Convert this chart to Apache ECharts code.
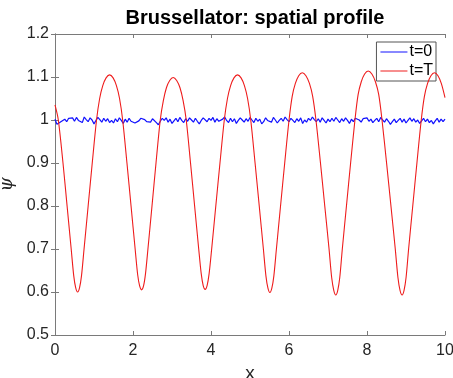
<!DOCTYPE html>
<html>
<head>
<meta charset="utf-8">
<script src="https://cdn.jsdelivr.net/npm/echarts@6/dist/echarts.min.js"></script>
<style>
  html, body { margin: 0; padding: 0; background: #fff; }
  #chart { width: 453px; height: 378px; }
</style>
</head>
<body>
<div id="chart"></div>
<script>
// 刻度
const xTicks = [0, 2, 4, 6, 8, 10];
const yTicks = [0.5, 0.6, 0.7, 0.8, 0.9, 1.0, 1.1, 1.2];

// t=T 曲线 (读图取点)
const redX = [
  0.00, 0.085, 0.205, 0.31, 0.415, 0.48, 0.53,
  0.58, 0.63, 0.68, 0.745, 0.85, 0.955, 1.065, 1.145, 1.225, 1.31,
  1.40, 1.49, 1.575, 1.655, 1.735, 1.845, 1.95, 2.055, 2.12, 2.17,
  2.22, 2.27, 2.32, 2.383, 2.487, 2.59, 2.699, 2.778, 2.857, 2.941,
  3.03, 3.12, 3.205, 3.285, 3.365, 3.475, 3.58, 3.685, 3.75, 3.80,
  3.85, 3.90, 3.951, 4.017, 4.123, 4.23, 4.341, 4.422, 4.503, 4.589,
  4.68, 4.771, 4.857, 4.938, 5.019, 5.13, 5.237, 5.343, 5.409, 5.46,
  5.51, 5.56, 5.611, 5.677, 5.783, 5.89, 6.001, 6.082, 6.163, 6.249,
  6.34, 6.434, 6.524, 6.607, 6.691, 6.807, 6.917, 7.027, 7.095, 7.148,
  7.20, 7.25, 7.301, 7.367, 7.473, 7.58, 7.691, 7.772, 7.853, 7.939,
  8.03, 8.125, 8.216, 8.301, 8.385, 8.502, 8.614, 8.725, 8.794, 8.847,
  8.90, 8.95, 9.001, 9.067, 9.173, 9.28, 9.391, 9.472, 9.553, 9.639,
  9.73, 9.82, 9.905, 10.00
];
const redY = [
  1.035, 1.00, 0.90, 0.80, 0.70, 0.638, 0.61,
  0.600, 0.61, 0.638, 0.70, 0.80, 0.90, 1.00, 1.05, 1.08, 1.098,
  1.105, 1.098, 1.08, 1.05, 1.00, 0.90, 0.80, 0.70, 0.64, 0.614,
  0.605, 0.614, 0.642, 0.70, 0.80, 0.90, 1.00, 1.045, 1.075, 1.092,
  1.099, 1.092, 1.075, 1.045, 1.00, 0.90, 0.80, 0.70, 0.642, 0.615,
  0.606, 0.615, 0.642, 0.70, 0.80, 0.90, 1.00, 1.05, 1.08, 1.098,
  1.105, 1.098, 1.08, 1.05, 1.00, 0.90, 0.80, 0.70, 0.637, 0.609,
  0.599, 0.609, 0.637, 0.70, 0.80, 0.90, 1.00, 1.055, 1.085, 1.103,
  1.11, 1.103, 1.085, 1.055, 1.00, 0.90, 0.80, 0.70, 0.633, 0.604,
  0.593, 0.604, 0.633, 0.70, 0.80, 0.90, 1.00, 1.059, 1.089, 1.107,
  1.114, 1.107, 1.089, 1.059, 1.00, 0.90, 0.80, 0.70, 0.633, 0.604,
  0.593, 0.604, 0.633, 0.70, 0.80, 0.90, 1.00, 1.055, 1.085, 1.103,
  1.11, 1.103, 1.085, 1.052
];

// t=0 曲线, x 步长 0.05
const blueStep = 0.05;
const blueY = [
  1.002, 0.990, 0.988, 0.996, 0.992, 1.002, 0.996, 1.004, 1.000, 1.005,
  0.997, 1.006, 0.999, 1.003, 0.994, 1.007, 1.001, 0.996, 1.005, 1.000,
  0.991, 0.999, 1.006, 1.001, 0.995, 1.004, 0.997, 1.003, 0.994, 0.999,
  0.993, 1.003, 0.996, 1.005, 0.999, 0.992, 1.002, 0.995, 1.004, 0.997,
  1.000, 0.993, 0.990, 0.998, 1.004, 1.007, 1.001, 0.996, 0.999, 0.995,
  1.003, 0.999, 0.994, 0.989, 0.997, 1.004, 0.999, 1.005, 0.995, 1.002,
  0.992, 0.998, 1.004, 0.996, 1.006, 0.999, 0.994, 1.003, 0.997, 1.005,
  1.000, 0.995, 1.004, 0.997, 0.991, 0.999, 1.005, 1.001, 0.996, 1.004,
  0.999, 1.006, 0.995, 1.003, 0.997, 0.993, 1.002, 1.007, 0.999, 0.994,
  1.004, 0.996, 1.003, 0.992, 0.999, 1.005, 1.000, 0.995, 1.003, 0.997,
  1.006, 1.000, 0.994, 1.004, 0.997, 1.002, 0.991, 0.996, 1.005, 0.999,
  1.003, 0.995, 1.006, 1.000, 0.993, 0.999, 1.004, 0.997, 1.007, 1.001,
  0.996, 1.004, 0.999, 0.994, 1.003, 0.997, 1.005, 0.992, 1.000, 0.995,
  1.004, 0.999, 1.007, 1.001, 0.996, 1.003, 0.995, 1.005, 0.999, 0.993,
  1.002, 0.996, 1.004, 0.997, 1.006, 1.000, 0.994, 1.003, 0.997, 1.005,
  0.999, 0.992, 1.002, 0.996, 1.004, 1.007, 1.000, 0.995, 1.003, 0.999,
  1.005, 0.997, 1.002, 0.994, 0.999, 1.004, 0.996, 1.006, 1.000, 0.995,
  1.003, 0.997, 0.990, 0.996, 1.002, 0.994, 0.999, 1.004, 0.995, 1.002,
  0.993, 0.999, 1.005, 0.997, 1.003, 0.995, 1.000, 0.992, 0.998, 1.004,
  0.996, 1.002, 0.994, 0.999, 0.991, 0.998, 1.004, 0.995, 1.002, 0.996,
  1.002
];

const FONT = 'Liberation Sans, Arial, Helvetica, sans-serif';
const AXIS_COLOR = '#7a7a7a';
const LABEL_COLOR = '#262626';

const redData = redX.map((x, i) => [x, redY[i]]);
const blueData = blueY.map((y, i) => [+(i * blueStep).toFixed(2), y]);

// 坐标轴公共样式 (刻度朝内, 四边框)
function axisBase(show) {
  return {
    type: 'value',
    axisLine: { show: true, lineStyle: { color: AXIS_COLOR, width: 1 } },
    axisTick: { show: true, inside: true, length: 4, lineStyle: { color: AXIS_COLOR } },
    splitLine: { show: false },
    axisLabel: {
      show: show,
      color: LABEL_COLOR,
      fontSize: 16,
      fontFamily: FONT,
    },
  };
}

const option = {
  animation: false,
  title: {
    text: 'Brussellator: spatial profile',
    left: 250,
    textAlign: 'center',
    top: 3,
    textStyle: {
      fontFamily: FONT,
      fontSize: 20,
      fontWeight: 'bold',
      color: '#000',
    },
  },
  grid: {
    left: 55,
    right: 8,
    top: 34,
    bottom: 43,
    outerBoundsMode: 'none',
    containLabel: false,
  },
  legend: {
    orient: 'vertical',
    right: 17,
    top: 42,
    padding: [2, 3, 2, 4],
    itemGap: 3,
    itemWidth: 27,
    itemHeight: 1,
    icon: 'rect',
    backgroundColor: '#fff',
    borderColor: '#555',
    borderWidth: 1,
    borderRadius: 0,
    textStyle: {
      fontFamily: FONT,
      fontSize: 16,
      color: '#000',
      padding: [0, 0, 0, -3],
    },
    data: ['t=0', 't=T'],
  },
  xAxis: [
    Object.assign(axisBase(true), {
      min: 0,
      max: 10,
      interval: 2,
      position: 'bottom',
      name: 'x',
      nameLocation: 'middle',
      nameGap: 25,
      nameTextStyle: { fontFamily: FONT, fontSize: 19, color: LABEL_COLOR },
    }),
    Object.assign(axisBase(false), {
      min: 0,
      max: 10,
      interval: 2,
      position: 'top',
    }),
  ],
  yAxis: [
    Object.assign(axisBase(true), {
      min: 0.5,
      max: 1.2,
      interval: 0.1,
      position: 'left',
      name: 'ψ',
      nameLocation: 'middle',
      nameRotate: 90,
      nameGap: 38,
      nameTextStyle: {
        fontFamily: 'DejaVu Serif, serif',
        fontStyle: 'italic',
        fontSize: 18,
        color: LABEL_COLOR,
      },
      axisLabel: {
        show: true,
        color: LABEL_COLOR,
        fontSize: 16,
        fontFamily: FONT,
        margin: 6,
        formatter: (v) => String(+v.toFixed(1)),
      },
    }),
    Object.assign(axisBase(false), {
      min: 0.5,
      max: 1.2,
      interval: 0.1,
      position: 'right',
    }),
  ],
  series: [
    {
      name: 't=0',
      type: 'line',
      data: blueData,
      symbol: 'none',
      lineStyle: { color: '#1010ff', width: 1.2 },
      itemStyle: { color: '#1010ff' },
      z: 3,
    },
    {
      name: 't=T',
      type: 'line',
      data: redData,
      symbol: 'none',
      smooth: 0.3,
      lineStyle: { color: '#ee1c1c', width: 1.1 },
      itemStyle: { color: '#ee1c1c' },
      z: 4,
    },
  ],
};

const myChart = echarts.init(document.getElementById('chart'));
myChart.setOption(option);
</script>
</body>
</html>
